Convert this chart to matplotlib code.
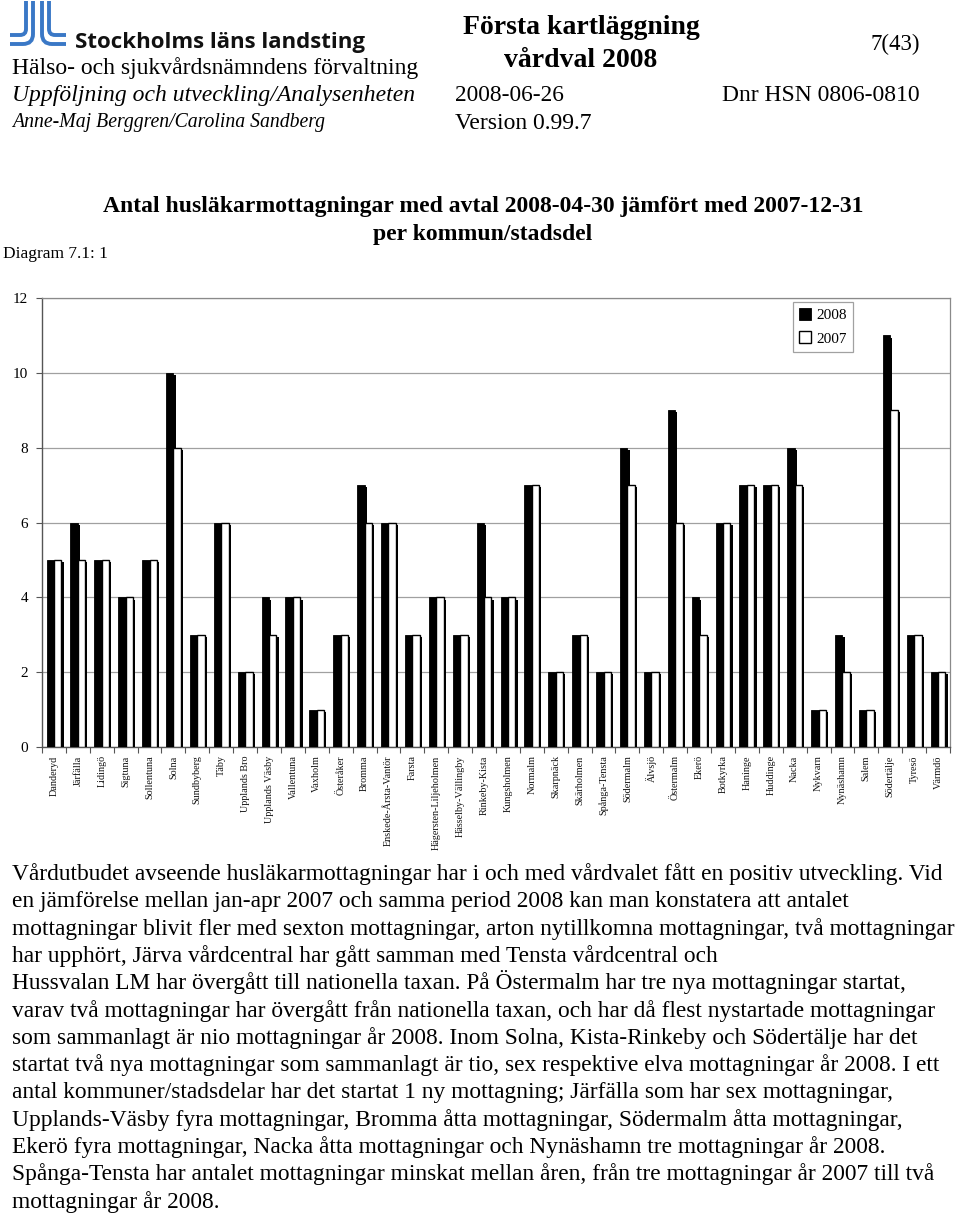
import matplotlib
matplotlib.use("Agg")
import matplotlib.pyplot as plt
import numpy as np
from matplotlib.transforms import ScaledTranslation
from matplotlib.path import Path
from matplotlib.patches import PathPatch

categories = ["Danderyd", "Järfälla", "Lidingö", "Sigtuna", "Sollentuna", "Solna",
              "Sundbyberg", "Täby", "Upplands Bro", "Upplands Väsby", "Vallentuna",
              "Vaxholm", "Österåker", "Bromma", "Enskede-Årsta-Vantör", "Farsta",
              "Hägersten-Liljeholmen", "Hässelby-Vällingby", "Rinkeby-Kista",
              "Kungsholmen", "Normalm", "Skarpnäck", "Skärholmen", "Spånga-Tensta",
              "Södermalm", "Älvsjö", "Östermalm", "Ekerö", "Botkyrka", "Haninge",
              "Huddinge", "Nacka", "Nykvarn", "Nynäshamn", "Salem", "Södertälje",
              "Tyresö", "Värmdö"]
values_2008 = [5, 6, 5, 4, 5, 10, 3, 6, 2, 4, 4, 1, 3, 7, 6, 3, 4, 3, 6, 4, 7, 2, 3, 2,
               8, 2, 9, 4, 6, 7, 7, 8, 1, 3, 1, 11, 3, 2]
values_2007 = [5, 5, 5, 4, 5, 8, 3, 6, 2, 3, 4, 1, 3, 6, 6, 3, 4, 3, 4, 4, 7, 2, 3, 2,
               7, 2, 6, 3, 6, 7, 7, 7, 1, 2, 1, 9, 3, 2]
series_labels = ["2008", "2007"]
y_ticks = [0, 2, 4, 6, 8, 10, 12]

body_lines = [
    "Vårdutbudet avseende husläkarmottagningar har i och med vårdvalet fått en positiv utveckling. Vid",
    "en jämförelse mellan jan-apr 2007 och samma period 2008 kan man konstatera att antalet",
    "mottagningar blivit fler med sexton mottagningar, arton nytillkomna mottagningar, två mottagningar",
    "har upphört, Järva vårdcentral har gått samman med Tensta vårdcentral och",
    "Hussvalan LM har övergått till nationella taxan. På Östermalm har tre nya mottagningar startat,",
    "varav två mottagningar har övergått från nationella taxan, och har då flest nystartade mottagningar",
    "som sammanlagt är nio mottagningar år 2008. Inom Solna, Kista-Rinkeby och Södertälje har det",
    "startat två nya mottagningar som sammanlagt är tio, sex respektive elva mottagningar år 2008. I ett",
    "antal kommuner/stadsdelar har det startat 1 ny mottagning; Järfälla som har sex mottagningar,",
    "Upplands-Väsby fyra mottagningar, Bromma åtta mottagningar, Södermalm åtta mottagningar,",
    "Ekerö fyra mottagningar, Nacka åtta mottagningar och Nynäshamn tre mottagningar år 2008.",
    "Spånga-Tensta har antalet mottagningar minskat mellan åren, från tre mottagningar år 2007 till två",
    "mottagningar år 2008.",
]

W, H = 960, 1215
fig = plt.figure(figsize=(W / 100, H / 100), dpi=100)
fig.patch.set_facecolor("white")

# page overlay in pixel coordinates
pg = fig.add_axes([0, 0, 1, 1])
pg.set_xlim(0, W)
pg.set_ylim(H, 0)
pg.axis("off")

serif = "Liberation Serif"

# logo
blue = "#3a78c6"
def stroke(verts):
    codes = [Path.MOVETO, Path.LINETO, Path.CURVE3, Path.CURVE3, Path.LINETO]
    pg.add_patch(PathPatch(Path(verts, codes), fill=False, edgecolor=blue, lw=2.8,
                           capstyle="butt"))
stroke([(33, 1), (33, 34), (33, 44), (23, 44), (10, 44)])
stroke([(26, 1), (26, 29), (26, 35), (20, 35), (10, 35)])
stroke([(42, 1), (42, 34), (42, 44), (52, 44), (66, 44)])
stroke([(49, 1), (49, 29), (49, 35), (55, 35), (66, 35)])

pg.text(75, 48, "Stockholms läns landsting", fontfamily="Open Sans", fontweight="bold",
        fontsize=16, ha="left", va="baseline", color="#111111")
pg.text(12, 74, "Hälso- och sjukvårdsnämndens förvaltning", fontfamily=serif,
        fontsize=17, ha="left", va="baseline")
pg.text(12, 101, "Uppföljning och utveckling/Analysenheten", fontfamily=serif,
        style="italic", fontsize=17, ha="left", va="baseline")
pg.text(12, 127, "Anne-Maj Berggren/Carolina Sandberg", fontfamily=serif,
        style="italic", fontsize=14.2, ha="left", va="baseline")
pg.text(581, 34, "Första kartläggning", fontfamily=serif, fontweight="bold",
        fontsize=20, ha="center", va="baseline")
pg.text(581, 67, "vårdval 2008", fontfamily=serif, fontweight="bold",
        fontsize=20, ha="center", va="baseline")
pg.text(895, 50, "7(43)", fontfamily=serif, fontsize=16.5, ha="center", va="baseline")
pg.text(455, 101, "2008-06-26", fontfamily=serif, fontsize=16.8, ha="left", va="baseline")
pg.text(920, 101, "Dnr HSN 0806-0810", fontfamily=serif, fontsize=17, ha="right",
        va="baseline")
pg.text(455, 129, "Version 0.99.7", fontfamily=serif, fontsize=17, ha="left",
        va="baseline")

pg.text(483, 212, "Antal husläkarmottagningar med avtal 2008-04-30 jämfört med 2007-12-31",
        fontfamily=serif, fontweight="bold", fontsize=17, ha="center", va="baseline")
pg.text(483, 240, "per kommun/stadsdel", fontfamily=serif, fontweight="bold",
        fontsize=17, ha="center", va="baseline")
pg.text(3, 258, "Diagram 7.1: 1", fontfamily=serif, fontsize=12.5, ha="left",
        va="baseline")

for i, line in enumerate(body_lines):
    pg.text(12, 880 + i * 27.3, line, fontfamily=serif, fontsize=16.8, ha="left",
            va="baseline")

# chart
left, right, top, bottom = 42, 950, 298, 747
ax = fig.add_axes([left / W, 1 - bottom / H, (right - left) / W, (bottom - top) / H])
x = np.arange(len(categories))
bw = 0.31
shadow = ax.transData + ScaledTranslation(2.2 / 100, -2.2 / 100, fig.dpi_scale_trans)

ax.bar(x - bw / 2, values_2008, bw, color="black", transform=shadow, zorder=2)
ax.bar(x - bw / 2, values_2008, bw, color="black", edgecolor="black", lw=0.6, zorder=3,
       label=series_labels[0])
ax.bar(x + bw / 2, values_2007, bw, color="black", transform=shadow, zorder=4)
ax.bar(x + bw / 2, values_2007, bw, color="white", edgecolor="black", lw=1.0, zorder=5,
       label=series_labels[1])

ax.set_xlim(-0.5, len(categories) - 0.5)
ax.set_ylim(0, 12)
ax.set_yticks(y_ticks)
ax.set_yticklabels([str(v) for v in y_ticks], fontfamily=serif, fontsize=11)
ax.yaxis.grid(True, color="#a0a0a0", lw=0.9)
ax.set_axisbelow(True)
ax.tick_params(axis="y", length=4, width=0.8, color="#555555", pad=6)

ax.set_xticks(x)
ax.set_xticklabels(categories, rotation=90, fontfamily=serif, fontsize=7.3, ha="center",
                   va="top", color="#111111")
ax.tick_params(axis="x", which="major", length=0, pad=6)
ax.set_xticks(np.arange(len(categories) + 1) - 0.5, minor=True)
ax.tick_params(axis="x", which="minor", length=4, width=0.8, color="#555555")

for s in ["top", "right"]:
    ax.spines[s].set_color("#8a8a8a")
    ax.spines[s].set_linewidth(0.9)
for s in ["left", "bottom"]:
    ax.spines[s].set_color("#555555")
    ax.spines[s].set_linewidth(1.0)

leg = ax.legend(loc="upper left", bbox_to_anchor=((793 - left) / (right - left), 1 - 4 / (bottom - top)),
                prop={"family": serif, "size": 11}, frameon=True, fancybox=False,
                edgecolor="#8a8a8a", handlelength=0.8, handleheight=0.8,
                handletextpad=0.3, borderpad=0.4, labelspacing=0.6, borderaxespad=0)
leg.get_frame().set_linewidth(0.9)

fig.savefig("out.png", dpi=100, facecolor="white")
